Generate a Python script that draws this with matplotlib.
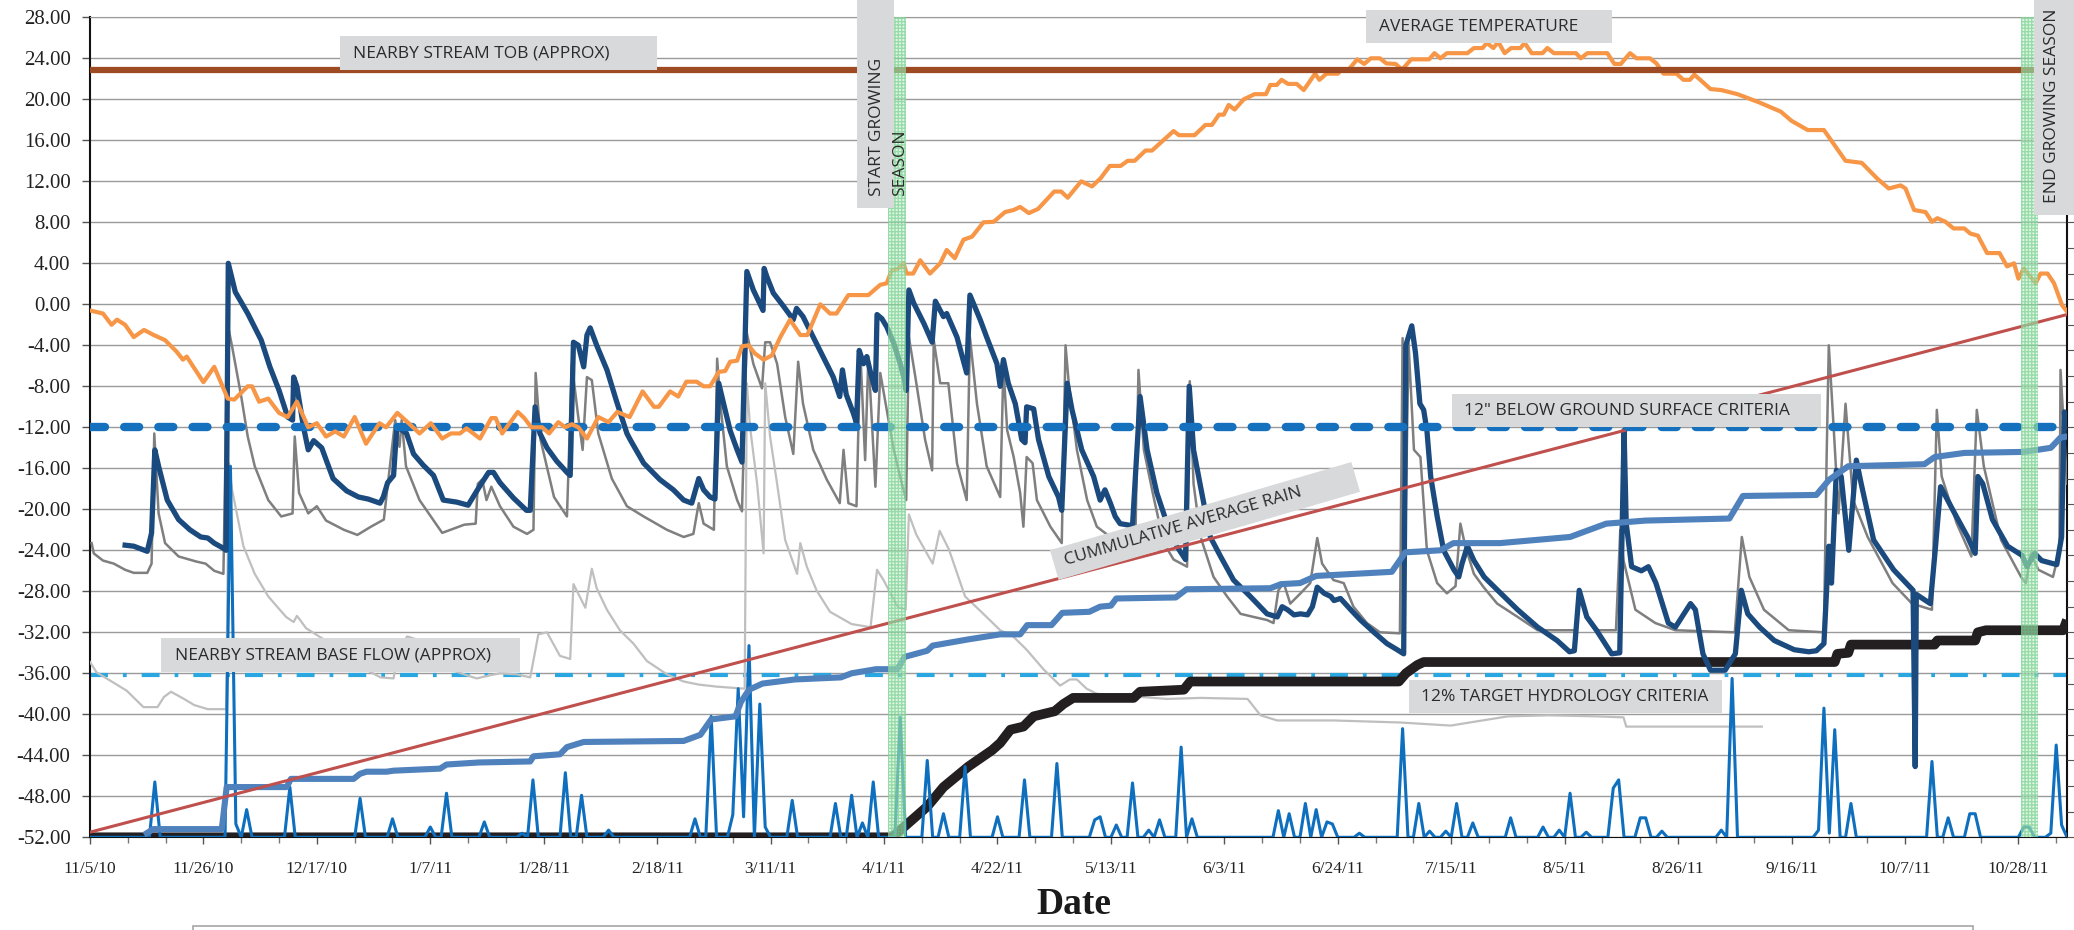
import numpy as np
import matplotlib
matplotlib.use("Agg")
import matplotlib.pyplot as plt
import matplotlib.dates as mdates
from matplotlib.patches import Rectangle
from matplotlib.transforms import Affine2D
from datetime import datetime

plt.rcParams['axes.unicode_minus'] = False

# ---- data (days after 11/5/10, value) ----
START = mdates.date2num(datetime(2010, 11, 5))
X_END = 366

tob_level = 22.9
criteria_12in = -12.0
base_flow = -36.2
target_12pct = -39.5
yellow_level = -45.0
red_level = -47.0
avg_rain_days = [0, 366]
avg_rain_vals = [-51.5, -1.0]
grow_start = [147.8, 151.1]
grow_end = [357.4, 360.6]

temp_days = [0, 2.4, 4, 5, 6.5, 8.1, 10, 11.8, 13.9, 16, 17.2, 17.9, 21, 23, 25.5, 26.7, 29.2, 30, 31.3, 33,
             35, 36.6, 38.3, 40.4, 42, 43.7, 45.4, 47, 49, 51.1, 53.6, 54.8, 56.9, 59, 61, 63.1, 65.2, 66.8,
             68.5, 69.7, 72.2, 74.3, 75.1, 76.3, 79.2, 80.4, 81.7, 83.7, 85, 86.7, 88, 89.2, 90.4, 92, 94.1,
             96, 97.6, 99.9, 102.3, 104.4, 105.3, 107.4, 108.9, 110.4, 112.3, 113.6, 114.8, 116.4, 117.6,
             118.5, 119.8, 120.7, 121.9, 123.1, 124.7, 126.2, 127.8, 129.6, 131.5, 132.8, 135.2, 137, 138.2,
             140.4, 144.1, 146.3, 147.5, 148.4, 149.7, 150.6, 151.2, 152.4, 153.7, 155.5, 157.4, 158.6, 160.1,
             161.7, 163.3, 165.4, 167.3, 169.4, 171, 172.2, 173.8, 175.5, 178.5, 179.8, 181, 183.5, 185.5,
             187.1, 188.8, 190.8, 192.1, 193.4, 195.4, 196.6, 198.7, 200.6, 201.6, 204.5, 206.5, 207.7, 209,
             209.9, 210.8, 211.9, 213.6, 215.6, 217.7, 218.5, 219.7, 220.6, 221.8, 223.4, 224.7, 226.8, 227.6,
             228.9, 231, 231.7, 233, 234.6, 235.9, 237.1, 238.8, 240, 241.7, 242.9, 244.6, 247.9, 248.9, 250,
             251.2, 255, 256.2, 257.8, 258.6, 259.8, 260.7, 261.9, 263.1, 264.8, 265.6, 266.9, 268.9, 269.8,
             271, 275.1, 276, 277.2, 280.9, 282.2, 283.4, 285.1, 286.3, 288.8, 290, 291.3, 293.7, 295, 296.2,
             297, 298.1, 300, 302, 305, 309, 313, 315, 318, 321, 323, 325, 328, 331, 333, 335.2, 336.1, 337.7,
             339.8, 341, 342, 343.5, 345, 347, 348.1, 349.5, 351.2, 353.5, 354.9, 356.2, 357, 358, 360.2,
             361.1, 362.4, 363.6, 365.1, 366]
temp_vals = [-0.6, -0.9, -2.0, -1.5, -2.0, -3.2, -2.5, -3.0, -3.5, -4.6, -5.4, -5.1, -7.6, -6.1, -9.2, -9.3,
             -8.0, -8.0, -9.5, -9.2, -10.6, -11.0, -9.5, -12.0, -11.6, -12.9, -12.4, -12.9, -11.0, -13.6, -11.6,
             -12.0, -10.6, -11.6, -12.6, -11.6, -13.1, -12.6, -12.6, -12.1, -13.1, -11.1, -11.1, -12.6, -10.5,
             -11.1, -12.0, -12.0, -12.6, -11.5, -12.0, -11.7, -12.0, -13.1, -11.0, -11.5, -10.5, -11.0, -8.5,
             -10.0, -10.0, -8.5, -9.0, -7.55, -7.55, -8.0, -8.0, -6.6, -6.5, -5.6, -5.5, -4.1, -4.0, -4.8, -5.4,
             -5.0, -3.2, -1.5, -3.0, -3.0, 0.0, -0.9, -0.9, 0.9, 0.9, 1.9, 2.05, 3.3, 3.5, 4.0, 3.0, 3.0, 4.3,
             3.0, 4.0, 5.3, 4.5, 6.3, 6.6, 8.0, 8.05, 9.0, 9.2, 9.5, 8.9, 9.3, 11.0, 11.0, 10.4, 12.0, 11.5,
             12.3, 13.5, 13.5, 14.0, 14.0, 15.0, 15.0, 16.0, 16.9, 16.5, 16.5, 17.5, 17.5, 18.5, 18.5, 19.45,
             19.0, 20.0, 20.5, 20.5, 21.4, 21.4, 21.9, 21.5, 21.5, 20.9, 22.5, 21.9, 22.5, 22.5, 22.9, 22.9,
             23.9, 23.45, 24.0, 24.0, 23.5, 23.45, 22.9, 23.9, 23.9, 24.5, 24.0, 24.5, 24.5, 25.0, 25.0, 25.5,
             25.0, 25.6, 24.5, 25.0, 25.0, 25.5, 24.5, 24.5, 25.0, 24.5, 24.5, 24.0, 24.5, 24.5, 23.45, 23.45,
             24.5, 24.0, 24.0, 23.5, 22.5, 22.5, 21.9, 21.9, 22.4, 21.9, 21.0, 20.9, 20.5, 19.7, 18.8, 17.9,
             17.0, 17.0, 15.5, 14.0, 13.8, 12.2, 11.3, 11.6, 11.3, 9.2, 9.0, 8.05, 8.4, 8.05, 7.4, 7.4, 6.9,
             6.7, 5.0, 5.0, 3.7, 4.0, 2.5, 3.5, 2.05, 3.0, 3.0, 2.05, -0.1, -0.7]

well1_days = [6.5, 8.1, 10.6, 11.4, 12, 12.7, 14.3, 16.4, 18.5, 20.5, 21.8, 23, 24.7, 25.2, 25.6, 26.9, 29.2,
              31.7, 33.3, 35, 36.6, 37.5, 37.7, 38.3, 39.5, 40.4, 41.4, 42.9, 43.8, 45, 47.5, 49.7, 51.5, 53.7,
              54.3, 55.1, 56.2, 56.8, 58.6, 59.9, 61.7, 63.6, 65.4, 67.9, 70, 72.2, 73.8, 74.7, 75.9, 78.4, 80.8,
              81.5, 82.4, 83.3, 84.6, 86.4, 88.3, 88.9, 89.5, 90.4, 91.4, 92, 92.6, 93.8, 95.7, 97.5, 99.4, 100,
              102.5, 105.5, 108, 109.9, 111.4, 112.7, 113.6, 114.8, 115.7, 116.4, 117.3, 118.5, 119.8, 120.7,
              121.6, 122.8, 124.6, 124.8, 125.3, 126.5, 128.4, 130.2, 130.8, 132, 133.9, 135.7, 137.6, 138.8,
              139.3, 140, 141.3, 141.9, 142.4, 143.2, 143.8, 144.7, 145.4, 145.7, 146.6, 147.5, 148.8, 150,
              150.8, 151.1, 151.6, 152.5, 154.4, 155.9, 156.5, 158, 158.6, 160.5, 162.3, 162.9, 164.8, 166,
              167.9, 168.5, 169.1, 170, 171.3, 172.5, 173.1, 173.4, 174.7, 175.6, 177.5, 179.3, 179.9, 180.9,
              181.8, 183.6, 185.8, 187, 187.9, 188.9, 189.8, 190.7, 193, 194.4, 195.7, 197.5, 199.4, 201.2,
              202.8, 203.5, 204.3, 205.6, 207.4, 209.3, 211.7, 214.8, 217.9, 219.8, 220.7, 221.7, 222.9, 224.1,
              225.4, 226.3, 227.2, 228.5, 229.7, 230.3, 231.5, 233.4, 235.2, 237.7, 240.1, 242, 243.2, 243.6,
              244.7, 245.4, 246.2, 246.9, 247.5, 248.2, 249.4, 250.6, 252.5, 253.4, 254, 255, 256.2, 258.1,
              260.6, 264.3, 268, 271.6, 273.9, 274.8, 275.7, 277.1, 278.9, 281.7, 283.2, 284, 284.4, 285.4,
              287.2, 288.5, 289.9, 292.2, 293.5, 296.3, 297.2, 298.6, 300, 302.7, 304.6, 305.7, 306.9, 309.1,
              311.8, 315.5, 318.2, 319.6, 321, 321.9, 322.4, 323.3, 324.2, 325.6, 327, 327.9, 330.2, 333.9,
              337.5, 337.9, 338.1, 340.7, 341.6, 342.6, 344.9, 347.6, 349, 349.5, 350.4, 352.2, 355, 357.7,
              358.6, 360, 361.3, 364.1, 365, 365.5, 366]
well1_vals = [-23.5, -23.6, -24.1, -22.3, -14.2, -15.8, -19.1, -21.0, -22.0, -22.7, -22.8, -23.3, -23.8, -24.0,
              4.0, 1.2, -0.9, -3.5, -6.1, -8.4, -11.0, -11.3, -7.1, -8.0, -11.9, -14.2, -13.3, -14.0, -15.3,
              -17.0, -18.2, -18.8, -19.0, -19.4, -18.8, -17.4, -16.7, -11.9, -12.6, -14.6, -15.7, -16.7, -19.1,
              -19.3, -19.6, -17.7, -16.4, -16.4, -17.4, -18.9, -20.1, -20.1, -10.0, -12.6, -14.0, -15.3, -16.4,
              -16.7, -3.7, -4.0, -6.1, -3.0, -2.3, -4.0, -6.4, -9.5, -12.6, -13.2, -15.5, -17.1, -18.1, -19.1,
              -19.4, -17.0, -18.1, -18.8, -19.0, -7.7, -9.7, -12.3, -14.2, -15.4, 3.2, 1.4, -0.6, 3.5, 2.7, 1.1,
              -0.2, -1.5, -0.4, -1.2, -3.2, -5.1, -7.1, -9.0, -6.4, -8.8, -10.6, -11.6, -4.5, -5.8, -5.1, -7.1,
              -8.4, -1.0, -1.4, -2.2, -3.8, -5.8, -7.4, -8.4, 1.4, 0.1, -1.9, -3.7, 0.3, -1.2, -0.9, -3.2, -6.7,
              0.9, -1.5, -3.2, -5.8, -8.0, -5.4, -7.7, -9.7, -13.2, -13.5, -10.0, -10.2, -13.2, -16.8, -18.8,
              -20.1, -7.7, -10.3, -14.2, -16.8, -19.1, -18.1, -19.4, -20.7, -21.4, -21.6, -9.0, -14.2, -18.4,
              -21.4, -23.6, -24.9, -8.0, -14.2, -17.8, -22.7, -24.6, -26.9, -28.5, -30.2, -30.5, -29.5, -29.8,
              -30.3, -30.2, -30.3, -29.5, -27.6, -28.2, -28.5, -28.9, -28.7, -29.8, -30.8, -32.0, -33.1, -33.7,
              -34.1, -4.0, -2.1, -4.8, -9.7, -10.3, -12.3, -16.8, -20.7, -24.0, -25.9, -26.6, -25.3, -23.6,
              -25.0, -26.6, -27.9, -29.8, -31.5, -32.8, -33.9, -33.8, -27.9, -30.5, -31.8, -34.1, -34.0, -12.3,
              -21.4, -25.6, -26.0, -25.6, -27.2, -31.1, -31.5, -29.2, -29.8, -34.1, -35.7, -35.7, -34.1, -27.9,
              -30.2, -31.5, -32.8, -33.7, -33.9, -33.8, -33.1, -23.6, -27.2, -16.2, -16.8, -24.0, -15.2, -17.5,
              -23.0, -25.9, -27.9, -45.1, -28.3, -29.2, -24.0, -17.8, -20.1, -22.7, -24.3, -16.8, -17.5, -21.0,
              -23.6, -24.5, -25.6, -24.3, -25.0, -25.4, -22.7, -10.5, -12.0]

well2_days = [0.3, 0.7, 2.4, 4.4, 6.5, 8.1, 10.6, 11.4, 11.9, 12.7, 13.9, 16.4, 19.7, 21.4, 23, 24.7, 25.5,
              26.3, 28, 29.2, 30.5, 33, 35.4, 37.5, 37.9, 38.7, 40.4, 42, 43.7, 47, 49.5, 52, 54.4, 54.8, 56.5,
              57.3, 57.7, 58.5, 61, 65.2, 69.3, 71.4, 71.8, 72.6, 73.4, 74.3, 75.9, 78.4, 80.9, 82.1, 82.5, 83.4,
              85.9, 88.3, 89.2, 90.3, 91.2, 92, 92.9, 94.1, 96.6, 99.4, 102.5, 106.8, 109.9, 111.7, 112.7, 113.6,
              115.5, 116.1, 116.7, 117.9, 119.8, 120.7, 121.6, 122.8, 124.4, 125, 125.9, 127.2, 128.7, 130.2,
              131.1, 132, 133.9, 136.4, 138.8, 139.5, 140.4, 141.9, 142.6, 143.5, 144.1, 145.4, 146.3, 147.5,
              148.8, 150.3, 151.1, 151.6, 152.8, 154.6, 155.9, 156.2, 157.4, 158.9, 160.5, 162.3, 162.9, 164.2,
              166, 168.5, 169.1, 169.8, 171, 172.2, 172.8, 173.4, 174.5, 175.3, 177.8, 179.9, 180.6, 181.2,
              182.7, 184.6, 186.4, 188.9, 191.4, 193.5, 194.1, 195.1, 196.9, 198.8, 200.6, 203.1, 203.6, 204.3,
              205.6, 208, 210.5, 213, 215.4, 217.9, 219.1, 220, 221, 222.2, 224.1, 225.9, 227.2, 228.1, 230.2,
              232.1, 233.9, 236.4, 238.8, 242.5, 243, 243.6, 244.1, 245.1, 246.3, 247.5, 249.4, 251.2, 252.8,
              253.7, 254.6, 256.2, 258, 260.5, 264.3, 268, 275.2, 275.7, 277.1, 278.9, 282.5, 283.3, 283.9,
              286.1, 289.8, 293.5, 304.5, 305.8, 307.2, 309.9, 314.5, 321, 321.5, 321.9, 322.8, 323.7, 325,
              326.4, 329.1, 333.7, 337.3, 341, 341.9, 342.8, 345.6, 348.3, 349.3, 350.6, 353.8, 357.5, 358.4,
              359.3, 360.7, 363.4, 364.6, 364.8, 366]
well2_vals = [-23.3, -24.3, -25.0, -25.3, -25.9, -26.2, -26.2, -25.3, -12.6, -20.4, -23.3, -24.6, -25.1, -25.3,
              -26.0, -26.3, -2.0, -4.1, -9.0, -12.9, -15.8, -19.1, -20.7, -20.4, -12.9, -18.4, -20.4, -19.7,
              -21.1, -22.0, -22.5, -21.7, -21.0, -19.1, -11.3, -13.9, -11.3, -15.8, -19.1, -22.3, -21.5, -21.4,
              -17.5, -17.1, -19.1, -17.8, -19.7, -21.7, -22.4, -22.0, -6.7, -13.2, -18.8, -20.7, -5.8, -10.6,
              -14.2, -7.1, -7.4, -12.6, -17.0, -19.7, -20.7, -22.0, -22.7, -22.4, -19.4, -21.4, -22.0, -5.3, -9.7,
              -15.8, -19.1, -20.2, -2.8, -5.8, -8.2, -3.7, -3.7, -5.8, -11.0, -14.6, -5.6, -9.7, -14.2, -17.1,
              -19.4, -14.2, -19.4, -19.7, -4.5, -15.2, -5.1, -17.8, -6.7, -10.3, -14.2, -17.5, -19.1, -3.2, -7.1,
              -13.2, -16.2, -3.5, -7.7, -7.7, -15.5, -19.1, -3.2, -9.7, -15.8, -18.8, -6.1, -12.3, -14.9, -18.4,
              -21.7, -14.9, -15.5, -19.1, -21.7, -23.3, -4.0, -7.7, -14.2, -19.1, -21.7, -22.7, -24.0, -24.0,
              -6.4, -14.2, -18.8, -23.3, -24.9, -25.6, -7.5, -17.5, -22.7, -26.6, -28.5, -30.2, -30.5, -30.8,
              -31.1, -27.9, -27.2, -29.2, -28.2, -27.2, -22.8, -25.3, -26.9, -27.2, -29.5, -31.1, -32.0, -32.1,
              -3.3, -20.0, -3.8, -14.2, -14.9, -24.0, -27.2, -28.2, -27.5, -21.4, -23.6, -26.3, -27.6, -29.2,
              -30.5, -31.8, -31.8, -27.9, -30.5, -31.8, -31.8, -22.0, -25.0, -29.8, -31.1, -31.8, -32.0, -22.7,
              -26.6, -29.8, -31.8, -32.0, -14.9, -4.0, -12.0, -20.4, -9.7, -19.1, -22.7, -27.2, -29.2, -29.8,
              -10.3, -16.8, -21.4, -24.6, -10.3, -15.8, -23.0, -26.6, -27.2, -24.3, -25.9, -26.6, -24.0, -6.4,
              -17.5]

well3_days = [0, 1.2, 3.7, 6.8, 9.9, 12.5, 13.7, 15, 17.4, 19.3, 21.8, 25.2, 25.7, 26.3, 28.4, 30.5, 33, 36.3,
              37.7, 38.3, 38.9, 40, 43, 45.2, 48.9, 51.3, 53.8, 56.2, 57, 58.7, 60.5, 63, 66, 69.8, 71.6, 74,
              75.9, 79, 81.5, 83, 84.6, 87, 88.9, 89.5, 91.7, 92.9, 93.8, 95.7, 98.1, 100.6, 103.1, 106.8, 109.9,
              112.7, 116, 121.2, 121.6, 122.2, 123.5, 124.7, 125, 125.9, 127.2, 128.7, 130.9, 131.5, 132.7,
              134.5, 137, 141, 144.5, 145.7, 146.9, 149.5, 151, 151.6, 153, 156, 157.3, 159, 162, 165, 168.5,
              170.9, 173.4, 176.5, 179.6, 181.4, 182.7, 184.5, 186.4, 194.4, 199.4, 205.6, 214.3, 216.7, 219.8,
              230.2, 242.6, 251.9, 262.5, 270, 278.9, 283.9, 284.4, 293.5, 309.5]
well3_vals = [-34.9, -35.9, -36.7, -37.7, -39.3, -39.3, -38.3, -37.8, -38.5, -39.1, -39.5, -39.5, -15.5, -18.1,
              -23.6, -26.3, -28.5, -30.5, -31.0, -30.4, -30.8, -31.6, -32.6, -33.3, -34.7, -35.7, -36.4, -36.5,
              -34.0, -32.4, -32.7, -34.7, -35.5, -36.2, -36.5, -36.2, -36.0, -36.1, -36.4, -32.2, -32.0, -34.3,
              -34.6, -27.3, -29.6, -25.8, -27.7, -29.8, -31.8, -33.1, -34.8, -36.1, -36.8, -37.1, -37.3, -37.5,
              -7.7, -12.0, -17.5, -24.3, -7.7, -12.9, -17.5, -23.0, -26.3, -23.3, -25.6, -27.9, -30.0, -31.2,
              -31.5, -25.9, -26.9, -29.5, -29.8, -20.5, -22.5, -25.3, -22.1, -23.9, -28.5, -30.0, -31.8, -32.4,
              -33.7, -35.6, -37.2, -36.6, -36.6, -37.5, -38.0, -38.3, -38.5, -38.4, -38.5, -40.1, -40.6, -40.6,
              -40.8, -41.1, -40.2, -40.1, -40.2, -40.3, -41.2, -41.2, -41.2]

cum_rain_days = [10.5, 11.7, 24.4, 25.3, 36.4, 37.2, 48.8, 50, 51.2, 54.9, 56.2, 64.8, 66, 72, 81.5, 82.1, 87,
                 88.3, 91.4, 109.9, 113, 115, 119.5, 120.5, 122, 124.5, 130.5, 139, 141, 145.5, 149.5, 150.8,
                 155, 156, 162.5, 168.5, 172.2, 173.5, 178, 180, 185, 187, 189, 190, 201, 203, 218.5, 220.5, 224,
                 227, 241, 243.5, 250, 252.4, 261, 274, 280.7, 288, 303.5, 306, 319.6, 322, 325.5, 339.6, 341.5,
                 347, 358, 363, 364.8, 366]
cum_rain_vals = [-51.6, -51.2, -51.2, -47.1, -47.1, -46.3, -46.3, -45.8, -45.6, -45.6, -45.5, -45.3, -44.9,
                 -44.7, -44.6, -44.1, -43.9, -43.2, -42.7, -42.6, -42.0, -40.5, -40.2, -38.8, -37.6, -37.0, -36.6,
                 -36.4, -36.0, -35.6, -35.6, -34.4, -33.8, -33.3, -32.7, -32.2, -32.2, -31.3, -31.3, -30.1, -30.0,
                 -29.5, -29.4, -28.7, -28.6, -27.8, -27.7, -27.3, -27.2, -26.5, -26.1, -24.2, -24.0, -23.3, -23.3,
                 -22.7, -21.4, -21.1, -20.9, -18.7, -18.6, -17.1, -15.8, -15.6, -14.9, -14.5, -14.4, -14.0, -13.0,
                 -12.9]

season_days = [0, 148.5, 155, 158, 162.6, 167, 168.5, 170.4, 172.8, 174.7, 178.6, 180.2, 182, 193.2, 194.4,
               202.5, 203.7, 242.3, 243.6, 245.7, 246.9, 323, 323.5, 325.5, 326, 341.5, 342, 349, 349.5, 351,
               365.3, 366]
season_vals = [-52, -52, -49.0, -47.1, -45.1, -43.5, -42.8, -41.5, -41.2, -40.2, -39.7, -39.0, -38.4, -38.4,
               -37.8, -37.6, -36.8, -36.8, -36.0, -35.2, -34.9, -34.9, -34.1, -34.0, -33.2, -33.2, -32.8, -32.8,
               -32.0, -31.8, -31.8, -30.8]

rain_base = -52.0
rain_days = [12, 26, 27, 29, 37, 50, 56, 63, 66, 73, 80, 82, 88, 91, 96, 112, 115, 119, 120, 121, 122, 124, 125,
             130, 138, 141, 143, 145, 150, 155, 158, 162, 168, 173, 179, 186, 187, 190, 193, 196, 198, 202, 204,
             220, 222, 225, 227, 229, 230, 235, 243, 246, 248, 251, 253, 256, 263, 269, 272, 274, 277, 282, 283,
             287, 288, 291, 302, 304, 320, 321, 322, 323, 326, 341, 344, 348, 349, 358, 359, 363, 364, 365]
rain_vals = [-46.6, -15.8, -50.7, -49.3, -47.1, -48.2, -50.2, -51.0, -47.7, -50.5, -51.6, -46.4, -45.7, -47.9,
             -51.3, -50.2, -40.2, -49.8, -37.5, -50.0, -33.3, -39.0, -51.0, -48.4, -48.7, -47.9, -50.6, -46.6,
             -40.3, -44.5, -49.7, -45.1, -50.0, -46.4, -44.8, -50.3, -50.0, -50.8, -46.7, -51.3, -50.3, -43.2,
             -50.2, -49.4, -49.7, -48.7, -49.3, -50.5, -50.7, -51.6, -41.4, -48.7, -51.4, -51.4, -48.7, -50.6,
             -50.1, -51.0, -51.3, -47.7, -51.5, -47.2, -46.4, -50.1, -50.1, -51.4, -51.3, -36.5, -51.3, -39.4,
             -51.6, -41.5, -48.7, -44.6, -50.1, -49.7, -49.7, -51.0, -51.0, -51.6, -43.0, -50.8]

yticks = np.arange(28, -52.1, -4)

# ---- figure ----
W, H = 2074, 930
fig = plt.figure(figsize=(W / 100, H / 100), dpi=100)
ax = fig.add_axes([90 / W, 1 - 837.3 / H, (2067 - 90) / W, (837.3 - 17.3) / H])


def dn(days):
    return START + np.asarray(days, dtype=float)


ax.set_xlim(dn(0), dn(X_END))
ax.set_ylim(-52, 28)
ax.set_yticks(yticks)
ax.yaxis.set_major_formatter(matplotlib.ticker.FormatStrFormatter('%.2f'))
ax.grid(axis='y', color='#9a9a9a', lw=1.0, zorder=0)
ax.set_axisbelow(True)

ax.xaxis.set_major_locator(matplotlib.ticker.FixedLocator(dn(np.arange(0, 358, 21))))
ax.xaxis.set_minor_locator(matplotlib.ticker.FixedLocator(dn(np.arange(0, 366, 7))))


def fmt_date(x, pos):
    d = mdates.num2date(x)
    return f"{d.month}/{d.day}/{d.year % 100}"


ax.xaxis.set_major_formatter(matplotlib.ticker.FuncFormatter(fmt_date))
ax.tick_params(axis='y', labelsize=15, length=6, width=1, color='#555555', pad=8, labelcolor='#222222')
ax.tick_params(axis='x', which='major', labelsize=12.5, length=5, width=1, color='#555555', pad=12,
               labelcolor='#222222')
ax.tick_params(axis='x', which='minor', length=4, width=1, color='#777777')
plt.setp(ax.get_xticklabels() + ax.get_yticklabels(), fontfamily='Liberation Serif')

ax.spines['top'].set_color('#9a9a9a')
ax.spines['right'].set_color('#111111')
ax.spines['left'].set_color('#111111')
ax.spines['left'].set_linewidth(1.5)
ax.spines['right'].set_linewidth(1.5)
ax.spines['bottom'].set_color('#111111')

# secondary ticks on right edge
ax2 = ax.twinx()
ax2.set_ylim(-52, 28)
ax2.set_yticks(np.arange(28, -52.1, -2.5))
ax2.set_yticklabels([])
ax2.tick_params(axis='y', length=6, color='#555555')
for s in ax2.spines.values():
    s.set_visible(False)

# reference lines
ax.axhline(target_12pct, color='#1DB04B', lw=3.2, dashes=(0, 2.3), dash_capstyle='round', zorder=2)
ax.axhline(yellow_level, color='#F3E600', lw=3.2, dashes=(0, 2.3), dash_capstyle='round', zorder=2)
ax.axhline(red_level, color='#EE1C25', lw=3.2, dashes=(0, 2.3), dash_capstyle='round', zorder=2)
ax.axhline(base_flow, color='#2AA7E0', lw=3.0, dashes=(4.3, 3.6, 0.9, 3.6), zorder=2)

# series
ax.plot(dn(well3_days), well3_vals, color='#BFBFBF', lw=1.6, zorder=3)
ax.plot(dn(well2_days), well2_vals, color='#7F7F7F', lw=1.8, zorder=4)
ax.plot(dn(season_days), season_vals, color='#231F20', lw=7, solid_capstyle='butt', zorder=5)
rain = np.full(X_END + 1, rain_base)
rain[rain_days] = rain_vals
ax.plot(dn(np.arange(X_END + 1)), rain, color='#0F6FBF', lw=2.2, zorder=5.5)
ax.plot(dn(well1_days), well1_vals, color='#1B4A7E', lw=3.8, zorder=6)
ax.plot(dn(cum_rain_days), cum_rain_vals, color='#4F81BD', lw=4.4, zorder=7)
ax.plot(dn(avg_rain_days), avg_rain_vals, color='#C0504D', lw=2.2, zorder=7.5)
ax.axhline(criteria_12in, color='#1570BE', lw=6, dashes=(1.8, 2.3), dash_capstyle='round', zorder=8)
ax.plot(dn(temp_days), temp_vals, color='#F79646', lw=3.0, zorder=9)
ax.axhline(tob_level, color='#9E4A22', lw=4.5, zorder=10)

for span in (grow_start, grow_end):
    ax.axvspan(dn(span[0]), dn(span[1]), facecolor='#cdeed6', edgecolor='#59c874', hatch='+++++',
               lw=0, alpha=0.55, zorder=11)

# ---- annotation boxes (pixel positions) ----
BOX_FC = '#D8D9DA'
TXT_C = '#2b2b2b'
FONT = 'Open Sans'


def box(x0, y0, x1, y1):
    fig.add_artist(Rectangle((x0 / W, 1 - y1 / H), (x1 - x0) / W, (y1 - y0) / H,
                             transform=fig.transFigure, facecolor=BOX_FC, edgecolor='none', zorder=20))


def label(x, y, s, **kw):
    fig.text(x / W, 1 - y / H, s, color=TXT_C, fontsize=12.5, family=FONT, zorder=21, **kw)


box(340, 36, 657, 70)
label(353, 53, 'NEARBY STREAM TOB (APPROX)', ha='left', va='center')
box(1366, 10, 1612, 43)
label(1379, 27, 'AVERAGE TEMPERATURE', ha='left', va='center')
box(1452, 394, 1821, 427)
label(1464, 411, '12" BELOW GROUND SURFACE CRITERIA', ha='left', va='center')
box(161, 638, 520, 672)
label(175, 655, 'NEARBY STREAM BASE FLOW (APPROX)', ha='left', va='center')
box(1409, 680, 1722, 713)
label(1421, 697, '12% TARGET HYDROLOGY CRITERIA', ha='left', va='center')

box(857, 0, 894, 208)
label(877, 196, 'START GROWING', rotation=90, ha='center', va='bottom')
label(900, 196, 'SEASON', rotation=90, ha='center', va='bottom')
box(2034, 0, 2074, 215)
label(2052, 203, 'END GROWING SEASON', rotation=90, ha='center', va='bottom')

# rotated box
cx, cy, bl, bh, ang = 12.05, (H - 521) / 100, 3.14, 0.31, 16.3
rot = Affine2D().rotate_deg_around(cx, cy, ang) + fig.dpi_scale_trans
fig.add_artist(Rectangle((cx - bl / 2, cy - bh / 2), bl, bh, transform=rot,
                         facecolor=BOX_FC, edgecolor='none', zorder=20))
label(1183, 527, 'CUMMULATIVE AVERAGE RAIN', rotation=ang, rotation_mode='anchor', ha='center', va='center')

# axis title and clipped legend frame
fig.text(1074 / W, 1 - 904 / H, 'Date', ha='center', va='center', fontsize=27, fontweight='bold',
         family='Liberation Serif', color='#1a1a1a')
fig.add_artist(Rectangle((193 / W, -0.05), (1973 - 193) / W, 0.05 + (H - 926) / H, transform=fig.transFigure,
                         facecolor='none', edgecolor='#a6a6a6', lw=1.2, zorder=20))

fig.savefig('out.png', dpi=100)
